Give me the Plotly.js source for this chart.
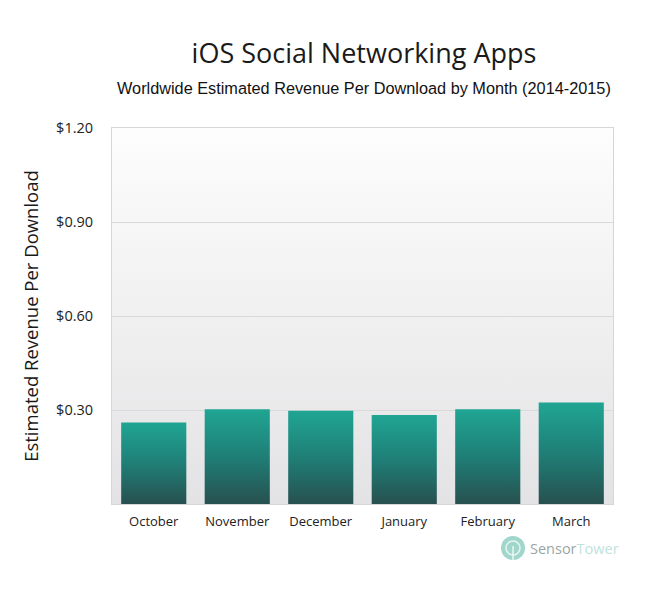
<!DOCTYPE html>
<html>
<head>
<meta charset="utf-8">
<script src="https://cdn.plot.ly/plotly-3.0.1.min.js"></script>
<style>html,body{margin:0;padding:0;background:#fff;}#chart{width:650px;height:600px;}</style>
</head>
<body>
<div id="chart"></div>
<script>
// Data
const months = ["October", "November", "December", "January", "February", "March"];
const revenuePerDownload = [0.260, 0.302, 0.298, 0.284, 0.302, 0.324];
const yTickValues = [0.3, 0.6, 0.9, 1.2];
const yTickLabels = ["$0.30", "$0.60", "$0.90", "$1.20"];

const W = 650, H = 600;
const L = 112, R = 613, T = 128, B = 504;
const px2py = y => (B - y) / (B - T);
const px2px = x => (x - L) / (R - L);

const trace = {
  type: "bar",
  x: months,
  y: revenuePerDownload,
  marker: { color: "#208a7d", line: { width: 0 } },
  hoverinfo: "none"
};

const layout = {
  width: W, height: H,
  margin: { l: L, r: W - R, t: T, b: H - B, pad: 0 },
  paper_bgcolor: "#ffffff",
  plot_bgcolor: "#eeeeef",
  showlegend: false,
  bargap: 0.22,
  title: {
    text: "iOS Social Networking Apps",
    font: { family: "Open Sans, sans-serif", size: 27, color: "#1a1a1a" },
    x: 364 / W, xref: "container", xanchor: "center",
    y: 1 - 54 / H, yref: "container", yanchor: "middle"
  },
  xaxis: {
    type: "category",
    showgrid: false, zeroline: false,
    showline: true, mirror: true, linecolor: "#d6d6d6", linewidth: 1,
    ticks: "outside", ticklen: 5, tickcolor: "rgba(0,0,0,0)",
    tickfont: { family: "Open Sans, sans-serif", size: 13, color: "#222" },
    fixedrange: true
  },
  yaxis: {
    range: [0, 1.2],
    tickvals: yTickValues, ticktext: yTickLabels,
    showgrid: true, gridcolor: "#d9d9d9", gridwidth: 1,
    zeroline: false,
    showline: true, mirror: true, linecolor: "#d6d6d6", linewidth: 1,
    ticks: "outside", ticklen: 15, tickcolor: "rgba(0,0,0,0)",
    tickfont: { family: "Open Sans, sans-serif", size: 14.5, color: "#222" },
    title: {
      text: "Estimated Revenue Per Download",
      font: { family: "Open Sans, sans-serif", size: 18.5, color: "#1a1a1a" },
      standoff: 12
    },
    fixedrange: true
  },
  annotations: [
    {
      text: "Worldwide Estimated Revenue Per Download by Month (2014-2015)",
      xref: "paper", yref: "paper", x: px2px(364), y: px2py(88),
      xanchor: "center", yanchor: "middle", showarrow: false,
      font: { family: "Liberation Sans, Arial, sans-serif", size: 16.3, color: "#111" }
    },
    {
      text: "<span style='color:#9aa6a6'>Sensor</span><span style='color:#bfe3dc'>Tower</span>",
      xref: "paper", yref: "paper", x: px2px(528), y: px2py(548),
      xanchor: "left", yanchor: "middle", showarrow: false,
      font: { family: "Open Sans, sans-serif", size: 14.5, color: "#9aa6a6" }
    }
  ],
  shapes: [
    {
      type: "circle", xref: "paper", yref: "paper",
      xsizemode: "pixel", ysizemode: "pixel",
      xanchor: px2px(513), yanchor: px2py(548),
      x0: -12, x1: 12, y0: -12, y1: 12,
      fillcolor: "rgba(130,200,188,0.75)", line: { width: 0 }
    },
    {
      type: "circle", xref: "paper", yref: "paper",
      xsizemode: "pixel", ysizemode: "pixel",
      xanchor: px2px(513), yanchor: px2py(548),
      x0: -7, x1: 7, y0: -7, y1: 7,
      fillcolor: "rgba(0,0,0,0)", line: { width: 1.6, color: "rgba(235,248,245,0.9)" }
    },
    {
      type: "line", xref: "paper", yref: "paper",
      xsizemode: "pixel", ysizemode: "pixel",
      xanchor: px2px(513), yanchor: px2py(548),
      x0: 0, x1: 0, y0: 2, y1: -12,
      line: { width: 1.6, color: "rgba(235,248,245,0.9)" }
    }
  ]
};

Plotly.newPlot("chart", [trace], layout, { displayModeBar: false, staticPlot: true }).then(gd => {
  const svg = gd.querySelector("svg.main-svg");
  let defs = svg.querySelector("defs");
  if (!defs) { defs = document.createElementNS("http://www.w3.org/2000/svg", "defs"); svg.insertBefore(defs, svg.firstChild); }
  const mk = (id, stops) => {
    const g = document.createElementNS("http://www.w3.org/2000/svg", "linearGradient");
    g.setAttribute("id", id);
    g.setAttribute("x1", "0"); g.setAttribute("y1", "0");
    g.setAttribute("x2", "0"); g.setAttribute("y2", "1");
    stops.forEach(([o, c]) => {
      const s = document.createElementNS("http://www.w3.org/2000/svg", "stop");
      s.setAttribute("offset", o); s.setAttribute("stop-color", c);
      g.appendChild(s);
    });
    defs.appendChild(g);
  };
  mk("barGrad", [["0", "#20a593"], ["0.5", "#1f7f77"], ["1", "#27504f"]]);
  mk("bgGrad", [["0", "#fdfdfd"], ["1", "#e3e3e5"]]);
  gd.querySelectorAll(".trace.bars .point path").forEach(p => { p.style.fill = "url(#barGrad)"; });
  const bg = gd.querySelector(".bglayer rect.bg");
  if (bg) bg.style.fill = "url(#bgGrad)";
});
</script>
</body>
</html>
